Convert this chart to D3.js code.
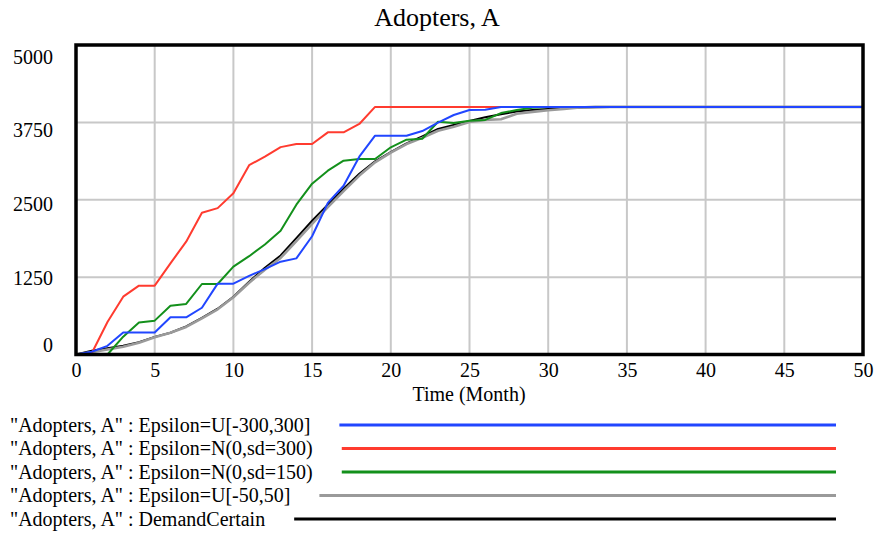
<!DOCTYPE html>
<html>
<head>
<meta charset="utf-8">
<script src="https://cdn.jsdelivr.net/npm/d3@7"></script>
<style>
  html, body { margin: 0; padding: 0; background: #fff; }
  svg { display: block; }
</style>
</head>
<body>
<svg id="chart" width="875" height="533"></svg>
<script>
// ---------------- data ----------------
const months = d3.range(0, 51);
const xTicks = [0, 5, 10, 15, 20, 25, 30, 35, 40, 45, 50];
const yTicks = [0, 1250, 2500, 3750, 5000];

const seriesNames = [
  '"Adopters, A" : Epsilon=U[-300,300]',
  '"Adopters, A" : Epsilon=N(0,sd=300)',
  '"Adopters, A" : Epsilon=N(0,sd=150)',
  '"Adopters, A" : Epsilon=U[-50,50]',
  '"Adopters, A" : DemandCertain'
];

const uniform300 = [
  0, 45, 140, 355, 355, 355, 601, 601, 755, 1145,
  1145, 1270, 1380, 1499, 1553, 1910, 2450, 2727, 3196, 3535,
  3535, 3535, 3610, 3745, 3869, 3950, 3955, 4000, 4000, 4000,
  4000, 4000, 4000, 4000, 4000, 4000, 4000, 4000, 4000, 4000,
  4000, 4000, 4000, 4000, 4000, 4000, 4000, 4000, 4000, 4000,
  4000
];
const normal300 = [
  0, 20, 525, 934, 1112, 1112, 1473, 1823, 2291, 2365,
  2604, 3058, 3196, 3350, 3400, 3400, 3589, 3589, 3724, 4000,
  4000, 4000, 4000, 4000, 4000, 4000, 4000, 4000, 4000, 4000,
  4000, 4000, 4000, 4000, 4000, 4000, 4000, 4000, 4000, 4000,
  4000, 4000, 4000, 4000, 4000, 4000, 4000, 4000, 4000, 4000,
  4000
];
const normal150 = [
  0, 0, 0, 288, 517, 547, 789, 816, 1139, 1139,
  1419, 1588, 1778, 1998, 2420, 2760, 2970, 3131, 3158, 3158,
  3347, 3470, 3485, 3760, 3740, 3775, 3790, 3900, 3950, 3985,
  4000, 4000, 4000, 4000, 4000, 4000, 4000, 4000, 4000, 4000,
  4000, 4000, 4000, 4000, 4000, 4000, 4000, 4000, 4000, 4000,
  4000
];
const uniform50 = [
  0, 35, 80, 125, 190, 280, 350, 445, 585, 730,
  925, 1160, 1370, 1560, 1830, 2110, 2380, 2640, 2890, 3105,
  3260, 3400, 3500, 3615, 3680, 3755, 3790, 3800, 3890, 3920,
  3945, 3965, 3990, 4000, 4000, 4000, 4000, 4000, 4000, 4000,
  4000, 4000, 4000, 4000, 4000, 4000, 4000, 4000, 4000, 4000,
  4000
];
const demandCertain = [
  0, 60, 100, 140, 200, 285, 352, 455, 590, 740,
  934, 1176, 1400, 1600, 1880, 2160, 2420, 2680, 2920, 3120,
  3270, 3410, 3525, 3643, 3708, 3772, 3832, 3882, 3925, 3950,
  3965, 3980, 3990, 3995, 4000, 4000, 4000, 4000, 4000, 4000,
  4000, 4000, 4000, 4000, 4000, 4000, 4000, 4000, 4000, 4000,
  4000
];

const seriesValues = [uniform300, normal300, normal150, uniform50, demandCertain];
const seriesColors = ["#2146ff", "#ff3b2f", "#13901b", "#9a9a9a", "#000000"];
const seriesWidths = [2, 2, 2, 2.6, 2];

const FONT = "'Liberation Serif', Tinos, 'Times New Roman', Times, 'DejaVu Serif', serif";

// ---------------- layout ----------------
const svg = d3.select("#chart").attr("font-family", FONT);
const L = 76, R = 863, T = 45, B = 354.5;

const x = d3.scaleLinear().domain([0, 50]).range([L, R]);
const y = d3.scaleLinear().domain([0, 5000]).range([B, T]);
// label placement (Vensim pulls the end labels inward)
const yLabelPos = d3.scaleLinear().domain([0, 1250, 2500, 3750, 5000]).range([345, 278, 203.5, 130, 56.5]);

function txt(sel) {
  return sel.attr("font-family", FONT).attr("fill", "#000");
}

// title
txt(svg.append("text"))
  .attr("x", 437).attr("y", 26)
  .attr("text-anchor", "middle")
  .attr("font-size", 26)
  .text("Adopters, A");

// grid
const grid = svg.append("g");
grid.selectAll("line.v").data(xTicks.slice(1, -1)).enter().append("line")
  .attr("x1", d => x(d)).attr("x2", d => x(d))
  .attr("y1", T).attr("y2", B)
  .attr("stroke", "#c8c8c8").attr("stroke-width", 2);
grid.selectAll("line.h").data(yTicks.slice(1, -1)).enter().append("line")
  .attr("x1", L).attr("x2", R)
  .attr("y1", d => y(d)).attr("y2", d => y(d))
  .attr("stroke", "#c8c8c8").attr("stroke-width", 2);

// series (drawn in reverse legend order so the first is on top)
const line = d3.line().x((d, i) => x(months[i])).y(d => y(d));
const order = [4, 3, 2, 1, 0];
const plot = svg.append("g");
order.forEach(k => {
  plot.append("path")
    .datum(seriesValues[k])
    .attr("d", line)
    .attr("fill", "none")
    .attr("stroke", seriesColors[k])
    .attr("stroke-width", seriesWidths[k])
    .attr("stroke-linejoin", "round");
});

// frame
svg.append("rect")
  .attr("x", L).attr("y", T)
  .attr("width", R - L).attr("height", B - T)
  .attr("fill", "none").attr("stroke", "#000").attr("stroke-width", 3.5);

// x axis labels
const xAxis = d3.axisBottom(x).tickValues(xTicks).tickSize(0).tickPadding(0).tickFormat(d3.format("d"));
const gx = svg.append("g").attr("transform", `translate(0,${B})`).call(xAxis)
  .attr("font-family", FONT).attr("font-size", 20);
gx.select(".domain").remove();
gx.selectAll("text").attr("y", 22).attr("dy", null).attr("fill", "#000");

txt(svg.append("text"))
  .attr("x", 469).attr("y", 401)
  .attr("text-anchor", "middle")
  .attr("font-size", 20)
  .text("Time (Month)");

// y axis labels
const yAxis = d3.axisLeft(yLabelPos).tickValues(yTicks).tickSize(0).tickPadding(0).tickFormat(d3.format("d"));
const gy = svg.append("g").attr("transform", `translate(53,0)`).call(yAxis)
  .attr("font-family", FONT).attr("font-size", 20);
gy.select(".domain").remove();
gy.selectAll("text").attr("dy", "0.33em").attr("fill", "#000");

// legend
const legendY = [425, 448.5, 472, 495.5, 519];
const lg = svg.append("g");
seriesNames.forEach((name, i) => {
  const t = txt(lg.append("text"))
    .attr("x", 10).attr("y", legendY[i] + 6.5)
    .attr("font-size", 20)
    .text(name);
  const w = t.node().getComputedTextLength();
  lg.append("line")
    .attr("x1", 10 + w + 29).attr("x2", 836)
    .attr("y1", legendY[i]).attr("y2", legendY[i])
    .attr("stroke", seriesColors[i])
    .attr("stroke-width", 3);
});
</script>
</body>
</html>
